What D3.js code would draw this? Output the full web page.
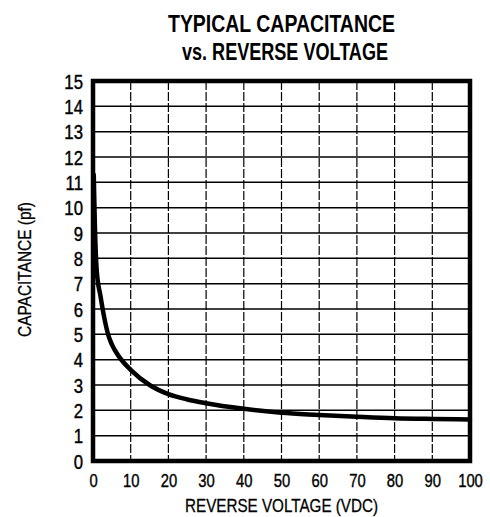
<!DOCTYPE html>
<html><head><meta charset="utf-8">
<script src="https://cdn.jsdelivr.net/npm/d3@7"></script>
<style>
body{margin:0;background:#fff;}
svg text{font-family:"Liberation Sans",Arial,sans-serif;fill:#000;}
</style></head>
<body><svg id="c" width="490" height="517"></svg>
<script>
const voltage = [0.2, 0.5, 1, 2, 3, 4, 5, 7, 10, 15, 20, 25, 30, 40, 50, 60, 70, 80, 90, 100];
const capacitance = [11.3, 9.3, 7.5, 6.5, 5.65, 5.0, 4.6, 4.1, 3.6, 3.0, 2.64, 2.43, 2.28, 2.06, 1.9, 1.82, 1.75, 1.69, 1.66, 1.64];
const xTicks = [0,10,20,30,40,50,60,70,80,90,100];
const yTicks = [0,1,2,3,4,5,6,7,8,9,10,11,12,13,14,15];
const titleLines = ["TYPICAL CAPACITANCE", "vs. REVERSE VOLTAGE"];
const xLabel = "REVERSE VOLTAGE (VDC)";
const yLabel = "CAPACITANCE (pf)";

const svg = d3.select("#c");
const L=93, R=470, T=81, B=461;
const x = d3.scaleLinear().domain([0,100]).range([L,R]);
const y = d3.scaleLinear().domain([0,15]).range([B,T]);

// title
const tl = [{cx:281.5, by:32, w:227},{cx:285, by:60, w:206}];
svg.selectAll("text.title").data(titleLines).join("text")
  .attr("class","title")
  .attr("x",(d,i)=>tl[i].cx - tl[i].w/2).attr("y",(d,i)=>tl[i].by)
  .attr("font-size",24.5).attr("font-weight","bold")
  .attr("textLength",(d,i)=>tl[i].w).attr("lengthAdjust","spacingAndGlyphs")
  .text(d=>d);

// grid
const g = svg.append("g");
g.selectAll("line.h").data(yTicks.slice(1,-1)).join("line")
  .attr("x1",L).attr("x2",R).attr("y1",d=>y(d)).attr("y2",d=>y(d))
  .attr("stroke","#000").attr("stroke-width",1.5);
g.selectAll("line.v").data(xTicks.slice(1,-1)).join("line")
  .attr("x1",d=>x(d)).attr("x2",d=>x(d)).attr("y1",T).attr("y2",B)
  .attr("stroke","#000").attr("stroke-width",1.2).attr("stroke-dasharray","9,2");

// axes
const xAxis = d3.axisBottom(x).tickValues(xTicks).tickSize(0).tickPadding(0);
const ax = svg.append("g").attr("transform",`translate(0,${B})`).call(xAxis);
ax.select(".domain").remove();
ax.selectAll("text").attr("font-size",18.5).style("font-family",null)
  .attr("stroke","#000").attr("stroke-width",0.4)
  .attr("dy",null).attr("y",26).attr("transform","scale(0.8,1)");

const yAxis = d3.axisLeft(y).tickValues(yTicks).tickSize(0).tickPadding(0);
const ay = svg.append("g").attr("transform",`translate(${L},0)`).call(yAxis);
ay.select(".domain").remove();
ay.selectAll("text").attr("font-size",19.5).style("font-family",null)
  .attr("stroke","#000").attr("stroke-width",0.4)
  .attr("x",-10/0.86).attr("dy","0.36em").attr("transform","scale(0.86,1)");

// curve
const pts = voltage.map((v,i)=>[v,capacitance[i]]);
svg.append("path").datum(pts)
  .attr("d",d3.line().x(d=>x(d[0])).y(d=>y(d[1])).curve(d3.curveMonotoneX))
  .attr("fill","none").attr("stroke","#000").attr("stroke-width",4.5).attr("stroke-linecap","round");

// border
svg.append("rect").attr("x",L).attr("y",T).attr("width",R-L).attr("height",B-T)
  .attr("fill","none").attr("stroke","#000").attr("stroke-width",4.5);

// axis labels
svg.append("text").attr("x",281.5-96.5).attr("y",512)
  .attr("font-size",19).attr("stroke","#000").attr("stroke-width",0.3)
  .attr("textLength",193).attr("lengthAdjust","spacingAndGlyphs").text(xLabel);
svg.append("text").attr("transform","translate(31,337) rotate(-90)")
  .attr("font-size",18).attr("stroke","#000").attr("stroke-width",0.3)
  .attr("textLength",135).attr("lengthAdjust","spacingAndGlyphs").text(yLabel);
</script></body></html>
